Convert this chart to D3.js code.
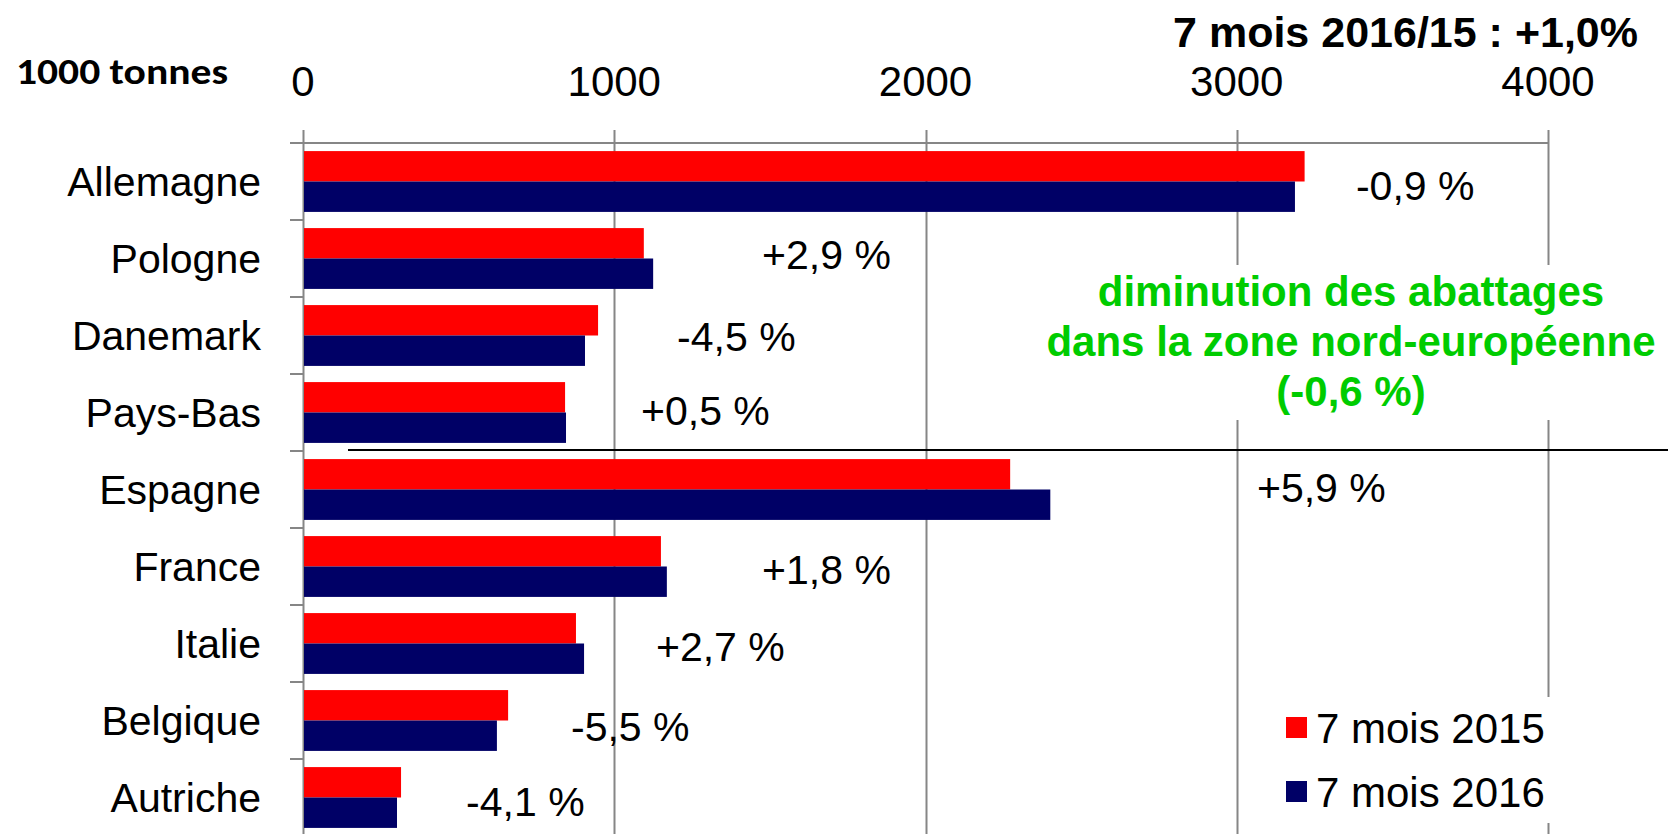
<!DOCTYPE html>
<html>
<head>
<meta charset="utf-8">
<script src="https://cdn.jsdelivr.net/npm/d3@7"></script>
<style>
  html, body { margin: 0; padding: 0; background: #fff; }
  svg { display: block; }
  text { font-family: "Liberation Sans", Arial, sans-serif; }
</style>
</head>
<body>
<svg id="chart" width="1668" height="834"></svg>
<script>
// ---- data ----
const categories = ["Allemagne", "Pologne", "Danemark", "Pays-Bas", "Espagne", "France", "Italie", "Belgique", "Autriche"];
const series = ["7 mois 2015", "7 mois 2016"];
const values2015 = [3218, 1095, 948, 842, 2272, 1150, 877, 659, 315];
const values2016 = [3187, 1125, 906, 845, 2401, 1169, 903, 623, 302];
const changeLabels = ["-0,9 %", "+2,9 %", "-4,5 %", "+0,5 %", "+5,9 %", "+1,8 %", "+2,7 %", "-5,5 %", "-4,1 %"];
const changeLabelAt = [3383, 1475, 1202, 1086, 3065, 1475, 1134, 861, 524]; // in 1000 t (value axis units)
const xTicks = [0, 1000, 2000, 3000, 4000];
const unitLabel = "1000 tonnes";
const title = "7 mois 2016/15 : +1,0%";
const noteLines = ["diminution des abattages", "dans la zone nord-européenne", "(-0,6 %)"];
const colors = ["#ff0000", "#000066"];

// ---- layout ----
const labelDy = [18, 10, 15, 12, 12, 17, 17, 20, 18];
const noteBaselines = [306, 356, 406];
const svg = d3.select("#chart");
const gridColor = "#868686";
const x = d3.scaleLinear().domain([0, 4000]).range([303, 1548]);
const y = d3.scaleBand().domain(categories).range([143, 836]).paddingInner(0.21).paddingOuter(0.105);
const ys = d3.scaleBand().domain(series).range([0, y.bandwidth()]);

// gridlines (vertical)
svg.append("g").selectAll("line").data(xTicks).join("line")
  .attr("x1", d => Math.round(x(d)) + 0.5).attr("x2", d => Math.round(x(d)) + 0.5)
  .attr("y1", 130).attr("y2", 834)
  .attr("stroke", gridColor).attr("stroke-width", 2);

// top axis line
svg.append("line").attr("x1", 290).attr("x2", x(4000) + 1)
  .attr("y1", 143).attr("y2", 143).attr("stroke", gridColor).attr("stroke-width", 2);

// left category ticks
const bounds = categories.map(c => y(c) - y.step() * y.paddingInner() / 2);
bounds.push(836);
svg.append("g").selectAll("line").data(bounds).join("line")
  .attr("x1", 290).attr("x2", 303).attr("y1", d => d).attr("y2", d => d)
  .attr("stroke", gridColor).attr("stroke-width", 2);

// tick labels
svg.append("g").selectAll("text").data(xTicks).join("text")
  .attr("x", d => x(d)).attr("y", 96).attr("text-anchor", "middle")
  .attr("font-size", 42).attr("fill", "#000").text(d => d);

// bars
const vals = [values2015, values2016];
series.forEach((s, si) => {
  svg.append("g").selectAll("rect").data(categories).join("rect")
    .attr("x", x(0) + 1)
    .attr("y", c => y(c) + ys(s))
    .attr("width", (c, i) => x(vals[si][i]) - x(0) - 1)
    .attr("height", ys.bandwidth())
    .attr("fill", colors[si]);
});

// category labels
svg.append("g").selectAll("text").data(categories).join("text")
  .attr("x", 261).attr("y", c => y(c) + y.bandwidth() / 2 + 14)
  .attr("text-anchor", "end").attr("font-size", 41).attr("fill", "#000").text(c => c);

// change labels
svg.append("g").selectAll("text").data(categories).join("text")
  .attr("x", (c, i) => x(changeLabelAt[i])).attr("y", (c, i) => y(c) + y.bandwidth() / 2 + labelDy[i])
  .attr("font-size", 41).attr("fill", "#000").text((c, i) => changeLabels[i]);

// separator line between north and south groups
svg.append("line").attr("x1", 348).attr("x2", 1668)
  .attr("y1", 450).attr("y2", 450).attr("stroke", "#000").attr("stroke-width", 2);

// note box (white background)
svg.append("rect").attr("x", 1040).attr("y", 265).attr("width", 628).attr("height", 155).attr("fill", "#fff");
svg.append("g").selectAll("text").data(noteLines).join("text")
  .attr("x", 1351).attr("y", (d, i) => noteBaselines[i])
  .attr("text-anchor", "middle").attr("font-size", 42).attr("font-weight", "bold")
  .attr("fill", "#00cc00").text(d => d);

// legend
svg.append("rect").attr("x", 1252).attr("y", 697).attr("width", 350).attr("height", 126).attr("fill", "#fff");
const lg = svg.append("g").selectAll("g").data(series).join("g")
  .attr("transform", (d, i) => `translate(1286,${717 + i * 64})`);
lg.append("rect").attr("width", 21).attr("height", 21).attr("fill", (d, i) => colors[i]);
lg.append("text").attr("x", 30).attr("y", 26).attr("font-size", 42).attr("fill", "#000").text(d => d);

// unit label & title
svg.append("text").attr("x", 16).attr("y", 84).attr("font-size", 36).attr("font-weight", "bold")
  .style("font-family", "Carlito, Calibri, 'Liberation Sans', sans-serif")
  .attr("textLength", 212).attr("lengthAdjust", "spacingAndGlyphs").text(unitLabel);
svg.append("text").attr("x", 1638).attr("y", 47).attr("text-anchor", "end")
  .attr("font-size", 43).attr("font-weight", "bold").attr("fill", "#000").text(title);
</script>
</body>
</html>
